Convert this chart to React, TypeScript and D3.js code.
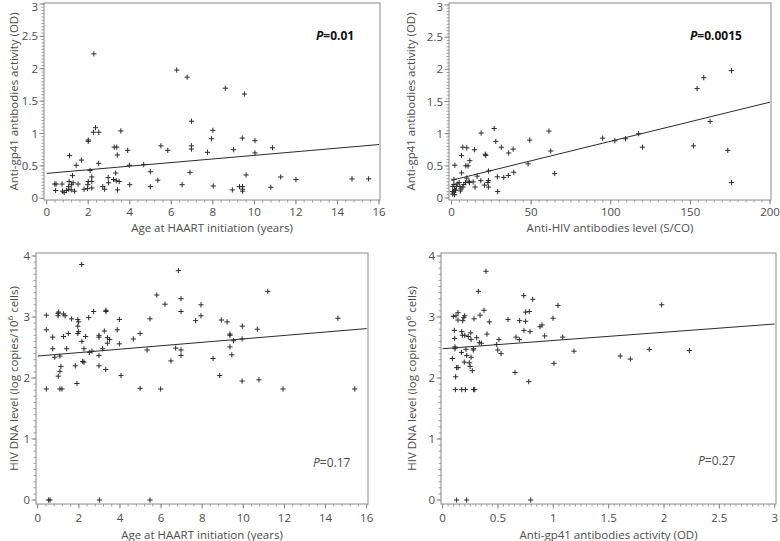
import React from "react";
import * as d3 from "d3";

// ---------- DATA ----------
const ageTicks = [0, 2, 4, 6, 8, 10, 12, 14, 16];
const odTicks = [0, 0.5, 1, 1.5, 2, 2.5, 3];
const odTickLabels = ["0", "0.5", "1", "1.5", "2", "2.5", "3"];
const scoTicks = [0, 50, 100, 150, 200];
const dnaTicks = [0, 1, 2, 3, 4];
const odXTicks = [0, 0.5, 1, 1.5, 2, 2.5, 3];

// Panel A: age at HAART initiation (years) vs anti-gp41 activity (OD)
const ageVsGp41: [number, number][] = [
  [2.27, 2.23], [6.26, 1.98], [6.76, 1.87], [6.97, 1.19], [6.97, 0.81], [6.97, 0.76], [6.9, 0.4], [6.52, 0.21],
  [2.35, 1.09], [2.25, 1.02], [2.51, 1.02], [2.0, 0.9], [2.0, 0.88], [3.57, 1.04], [3.25, 0.79], [3.37, 0.79],
  [3.4, 0.67], [3.9, 0.74], [5.5, 0.81], [5.83, 0.74], [4.67, 0.52], [3.98, 0.51], [2.5, 0.54], [1.67, 0.59],
  [1.42, 0.51], [1.1, 0.66], [1.24, 0.35], [2.09, 0.43], [2.17, 0.33], [3.32, 0.39], [3.22, 0.29], [3.35, 0.27],
  [3.49, 0.26], [2.96, 0.32], [2.98, 0.24], [2.7, 0.18], [2.79, 0.14], [2.0, 0.26], [1.98, 0.21], [2.17, 0.26],
  [2.17, 0.16], [1.96, 0.15], [1.8, 0.14], [1.51, 0.22], [1.27, 0.24], [1.08, 0.26], [1.19, 0.21], [1.05, 0.18],
  [0.74, 0.22], [0.45, 0.22], [0.39, 0.22], [0.43, 0.12], [0.76, 0.11], [0.84, 0.09], [0.95, 0.12], [1.06, 0.14],
  [1.18, 0.13], [1.34, 0.11], [3.41, 0.13], [4.0, 0.21], [4.99, 0.18], [4.99, 0.41], [5.35, 0.28],
  [8.6, 1.7], [9.52, 1.61], [8.0, 1.05], [7.94, 0.92], [9.42, 0.93], [10.03, 0.89], [7.74, 0.71], [9.0, 0.75],
  [10.03, 0.7], [10.87, 0.78], [9.6, 0.36], [11.27, 0.33], [12.0, 0.29], [14.7, 0.3], [15.5, 0.3], [8.02, 0.19],
  [8.94, 0.13], [9.28, 0.18], [9.43, 0.18], [9.43, 0.14], [9.43, 0.11], [10.79, 0.17],
];
const ageVsGp41Fit: [number, number][] = [[0, 0.385], [16, 0.83]];

// Panel B: anti-HIV antibodies level (S/CO) vs anti-gp41 activity (OD)
const scoVsGp41: [number, number][] = [
  [26.8, 1.08], [18.6, 1.01], [27.8, 0.88], [31.3, 0.79], [38.7, 0.76], [35.9, 0.7], [49.1, 0.9], [61.2, 1.04],
  [62.3, 0.73], [64.8, 0.38], [48.1, 0.53], [39.1, 0.4], [35.7, 0.35], [32.8, 0.32], [28.8, 0.33], [29.0, 0.1],
  [23.2, 0.27], [22.8, 0.24], [23.2, 0.17], [23.2, 0.42], [20.7, 0.2], [21.5, 0.66], [21.2, 0.68], [16.1, 0.34],
  [18.4, 0.27], [14.8, 0.17], [13.6, 0.25], [14.4, 0.75], [11.5, 0.58], [10.4, 0.5], [9.6, 0.78], [7.1, 0.79],
  [6.3, 0.66], [6.3, 0.39], [9.0, 0.5], [9.6, 0.31], [10.9, 0.26], [11.3, 0.24], [8.8, 0.24], [7.7, 0.21],
  [7.1, 0.17], [5.6, 0.11], [5.9, 0.14], [5.2, 0.18], [3.1, 0.18], [2.5, 0.12], [2.1, 0.51], [1.5, 0.29],
  [1.5, 0.21], [0.8, 0.18], [0.6, 0.1], [1.5, 0.09], [1.9, 0.13], [3.6, 0.22], [4.8, 0.24], [1.9, 0.05], [0.8, 0.06],
  [94.9, 0.93], [102.6, 0.89], [109.3, 0.92], [117.5, 1.0], [119.9, 0.79], [151.9, 0.81], [154.2, 1.7],
  [158.4, 1.87], [162.4, 1.19], [175.8, 1.98], [173.5, 0.74], [175.8, 0.24],
];
const scoVsGp41Fit: [number, number][] = [[0, 0.275], [200, 1.49]];

// Panel C: age at HAART initiation (years) vs HIV DNA level (log copies/10^6 cells)
const ageVsDna: [number, number][] = [
  [0.42, 3.03], [0.42, 2.79], [0.42, 1.82], [0.73, 2.67], [0.73, 2.48], [0.83, 2.34], [0.99, 3.06], [0.99, 3.02],
  [1.02, 3.08], [1.25, 3.05], [1.33, 3.02], [1.25, 2.68], [1.41, 2.48], [1.08, 2.36], [1.13, 2.19], [1.08, 2.11],
  [1.0, 2.03], [1.08, 1.82], [1.18, 1.82], [1.49, 2.73], [1.65, 2.97], [1.95, 2.96], [1.99, 2.92], [1.95, 2.85],
  [1.99, 2.76], [1.95, 2.73], [2.15, 2.6], [2.25, 2.48], [2.33, 2.68], [2.19, 2.27], [2.25, 2.26], [1.83, 2.2],
  [1.91, 1.91], [2.48, 2.99], [2.72, 3.09], [2.51, 2.42], [2.64, 2.44], [2.98, 2.7], [2.98, 2.67], [2.98, 2.37],
  [2.98, 2.2], [3.16, 2.48], [3.24, 2.77], [3.32, 3.11], [3.32, 3.09], [3.31, 2.14], [3.39, 2.66], [3.39, 2.57],
  [3.5, 2.63], [3.87, 2.79], [3.97, 2.96], [3.97, 2.56], [4.05, 2.04], [4.65, 2.64], [4.98, 2.73], [4.98, 1.83],
  [5.32, 2.46], [5.46, 2.97], [5.79, 3.36], [5.98, 1.82], [6.19, 3.21], [6.48, 2.28], [6.71, 2.49], [6.97, 2.46],
  [6.97, 2.37], [6.97, 3.3], [6.97, 3.09], [6.84, 3.76], [2.14, 3.86],
  [7.68, 2.94], [7.94, 3.2], [7.94, 3.02], [8.93, 2.95], [9.21, 2.92], [9.95, 2.85], [10.68, 2.8], [11.19, 3.42],
  [14.6, 2.98], [9.35, 2.72], [9.35, 2.7], [9.52, 2.61], [9.94, 2.64], [9.35, 2.51], [9.44, 2.38], [8.53, 2.32],
  [8.85, 2.04], [9.94, 1.95], [10.76, 1.97], [11.93, 1.82], [15.42, 1.82],
  [0.52, 0], [0.6, 0], [3.0, 0], [5.46, 0],
];
const ageVsDnaFit: [number, number][] = [[0, 2.36], [16, 2.81]];

// Panel D: anti-gp41 activity (OD) vs HIV DNA level
const gp41VsDna: [number, number][] = [
  [0.392, 3.75], [0.323, 3.42], [0.733, 3.35], [0.814, 3.29], [1.042, 3.19], [0.75, 3.08], [0.783, 3.09],
  [0.997, 2.98], [0.696, 2.94], [0.75, 2.93], [0.591, 2.96], [0.422, 2.92], [0.374, 3.11], [0.338, 3.03],
  [0.284, 2.97], [0.2, 3.02], [0.139, 3.07], [0.121, 3.02], [0.097, 3.01], [0.139, 2.95], [0.182, 2.94],
  [0.191, 2.99], [0.106, 2.78], [0.173, 2.76], [0.179, 2.7], [0.2, 2.7], [0.232, 2.68], [0.254, 2.74],
  [0.257, 2.63], [0.308, 2.66], [0.332, 2.58], [0.35, 2.57], [0.401, 2.72], [0.509, 2.63], [0.489, 2.55],
  [0.498, 2.46], [0.528, 2.4], [0.663, 2.67], [0.693, 2.63], [0.735, 2.78], [0.79, 2.76], [0.88, 2.84],
  [0.898, 2.87], [0.922, 2.69], [1.085, 2.67], [1.187, 2.44], [1.006, 2.24], [0.654, 2.09], [0.778, 1.94],
  [0.109, 2.65], [0.112, 2.51], [0.112, 2.48], [0.088, 2.32], [0.17, 2.42], [0.211, 2.47], [0.218, 2.37],
  [0.257, 2.34], [0.196, 2.26], [0.241, 2.25], [0.248, 2.19], [0.268, 2.12], [0.277, 2.46], [0.28, 2.48],
  [0.127, 2.17], [0.139, 2.17], [0.118, 2.02], [0.115, 1.81], [0.173, 1.81], [0.206, 1.81], [0.28, 1.81],
  [0.29, 1.81],
  [1.979, 3.2], [1.605, 2.36], [1.696, 2.31], [1.867, 2.47], [2.229, 2.45],
  [0.127, 0], [0.217, 0], [0.796, 0],
];
const gp41VsDnaFit: [number, number][] = [[0, 2.48], [3, 2.885]];

const xLabelAge = "Age at HAART initiation (years)";
const xLabelSco = "Anti-HIV antibodies level (S/CO)";
const xLabelOd = "Anti-gp41 antibodies activity (OD)";
const yLabelOd = "Anti-gp41 antibodies activity (OD)";
const pValues = ["0.01", "0.0015", "0.17", "0.27"];

// ---------- STYLE ----------
const FONT = "'Open Sans', 'DejaVu Sans', sans-serif";
const FS = 11.5;
const AXIS = "#8a8a8a";
const TEXT = "#4d4d4d";
const MARK = "#2b2b2b";

type Spec = {
  frame: { l: number; t: number; r: number; b: number };
  xDomain: [number, number];
  xRange: [number, number];
  yDomain: [number, number];
  yRange: [number, number];
  xTicks: number[];
  xTickLabels?: string[];
  xMinorStep: number;
  yTicks: number[];
  yTickLabels?: string[];
  yMinorStep: number;
  points: [number, number][];
  fit: [number, number][];
  xLabel: string;
  yLabel: React.ReactNode;
  yLabelX: number;
  xLabelY: number;
  tickLabelY: number;
  p: string;
  pBold: boolean;
  pX: number;
  pY: number;
};

function Panel({ s }: { s: Spec }) {
  const x = d3.scaleLinear().domain(s.xDomain).range(s.xRange);
  const y = d3.scaleLinear().domain(s.yDomain).range(s.yRange);
  const { l, t, r, b } = s.frame;
  const xMinor = d3.range(s.xDomain[0], s.xDomain[1] + 1e-9, s.xMinorStep);
  const yMinor = d3.range(s.yDomain[0], s.yDomain[1] + 1e-9, s.yMinorStep);
  const line = d3
    .line<[number, number]>()
    .x((d) => x(d[0]))
    .y((d) => y(d[1]));
  const arm = 2.6;
  return (
    <g>
      <rect x={l} y={t} width={r - l} height={b - t} fill="none" stroke={AXIS} strokeWidth={1} />
      {xMinor.map((v, i) => (
        <line key={"xm" + i} x1={x(v)} x2={x(v)} y1={b} y2={b + 2.5} stroke={AXIS} strokeWidth={0.8} />
      ))}
      {s.xTicks.map((v, i) => (
        <g key={"xt" + i}>
          <line x1={x(v)} x2={x(v)} y1={b} y2={b + 4.5} stroke={AXIS} strokeWidth={1} />
          <text x={x(v)} y={s.tickLabelY} textAnchor="middle" fontSize={FS} fill={TEXT} fontFamily={FONT}>
            {s.xTickLabels ? s.xTickLabels[i] : String(v)}
          </text>
        </g>
      ))}
      {yMinor.map((v, i) => (
        <line key={"ym" + i} x1={l - 2.5} x2={l} y1={y(v)} y2={y(v)} stroke={AXIS} strokeWidth={0.8} />
      ))}
      {s.yTicks.map((v, i) => (
        <g key={"yt" + i}>
          <line x1={l - 4.5} x2={l} y1={y(v)} y2={y(v)} stroke={AXIS} strokeWidth={1} />
          <text
            x={l - 6}
            y={Math.max(y(v), 7)}
            dy="0.35em"
            textAnchor="end"
            fontSize={FS}
            fill={TEXT}
            fontFamily={FONT}
          >
            {s.yTickLabels ? s.yTickLabels[i] : String(v)}
          </text>
        </g>
      ))}
      <path d={line(s.fit) || ""} fill="none" stroke={MARK} strokeWidth={1} />
      {s.points.map((d, i) => {
        const cx = x(d[0]);
        const cy = y(d[1]);
        return (
          <path
            key={"p" + i}
            d={`M${cx - arm},${cy}H${cx + arm}M${cx},${cy - arm}V${cy + arm}`}
            stroke={MARK}
            strokeWidth={1}
            fill="none"
          />
        );
      })}
      <text x={(l + r) / 2} y={s.xLabelY} textAnchor="middle" fontSize={FS} fill={TEXT} fontFamily={FONT}>
        {s.xLabel}
      </text>
      <text
        transform={`translate(${s.yLabelX},${(t + b) / 2}) rotate(-90)`}
        textAnchor="middle"
        fontSize={FS}
        fill={TEXT}
        fontFamily={FONT}
      >
        {s.yLabel}
      </text>
      <text
        x={s.pX}
        y={s.pY}
        fontSize={12}
        fill={s.pBold ? "#111" : TEXT}
        fontFamily={FONT}
        fontWeight={s.pBold ? 700 : 400}
      >
        <tspan fontStyle="italic">P</tspan>
        <tspan>{"=" + s.p}</tspan>
      </text>
    </g>
  );
}

const dnaLabel = (
  <>
    <tspan>HIV DNA level (log copies/10</tspan>
    <tspan fontSize={8} dy={-5}>6</tspan>
    <tspan dy={5}> cells)</tspan>
  </>
);

const specs: Spec[] = [
  {
    frame: { l: 44, t: 3, r: 380, b: 200 },
    xDomain: [0, 16], xRange: [46.7, 379],
    yDomain: [0, 3], yRange: [198.3, 4],
    xTicks: ageTicks, xMinorStep: 0.4,
    yTicks: odTicks, yTickLabels: odTickLabels, yMinorStep: 0.05,
    points: ageVsGp41, fit: ageVsGp41Fit,
    xLabel: xLabelAge, yLabel: yLabelOd, yLabelX: 18, xLabelY: 232, tickLabelY: 215.5,
    p: pValues[0], pBold: true, pX: 316, pY: 40,
  },
  {
    frame: { l: 449, t: 3, r: 771, b: 200 },
    xDomain: [0, 200], xRange: [451.5, 770],
    yDomain: [0, 3], yRange: [198, 5],
    xTicks: scoTicks, xMinorStep: 5,
    yTicks: odTicks, yTickLabels: odTickLabels, yMinorStep: 0.05,
    points: scoVsGp41, fit: scoVsGp41Fit,
    xLabel: xLabelSco, yLabel: yLabelOd, yLabelX: 415, xLabelY: 232, tickLabelY: 215.5,
    p: pValues[1], pBold: true, pX: 690, pY: 40,
  },
  {
    frame: { l: 36, t: 253, r: 368, b: 504 },
    xDomain: [0, 16], xRange: [37.7, 366.7],
    yDomain: [0, 4], yRange: [500, 256],
    xTicks: ageTicks, xMinorStep: 0.4,
    yTicks: dnaTicks, yMinorStep: 0.1,
    points: ageVsDna, fit: ageVsDnaFit,
    xLabel: xLabelAge, yLabel: dnaLabel, yLabelX: 18, xLabelY: 538.5, tickLabelY: 521.5,
    p: pValues[2], pBold: false, pX: 313, pY: 467,
  },
  {
    frame: { l: 441, t: 253, r: 776, b: 504 },
    xDomain: [0, 3], xRange: [442.6, 774.7],
    yDomain: [0, 4], yRange: [500, 256],
    xTicks: odXTicks, xTickLabels: odTickLabels, xMinorStep: 0.05,
    yTicks: dnaTicks, yMinorStep: 0.1,
    points: gp41VsDna, fit: gp41VsDnaFit,
    xLabel: xLabelOd, yLabel: dnaLabel, yLabelX: 416, xLabelY: 538.5, tickLabelY: 521.5,
    p: pValues[3], pBold: false, pX: 698, pY: 465,
  },
];

export default function App() {
  return (
    <svg
      width={780}
      height={541}
      viewBox="0 0 780 541"
      style={{ position: "absolute", left: 0, top: 0, background: "#fff" }}
    >
      <rect x={0} y={0} width={780} height={541} fill="#fff" />
      {specs.map((s, i) => (
        <Panel key={i} s={s} />
      ))}
    </svg>
  );
}
